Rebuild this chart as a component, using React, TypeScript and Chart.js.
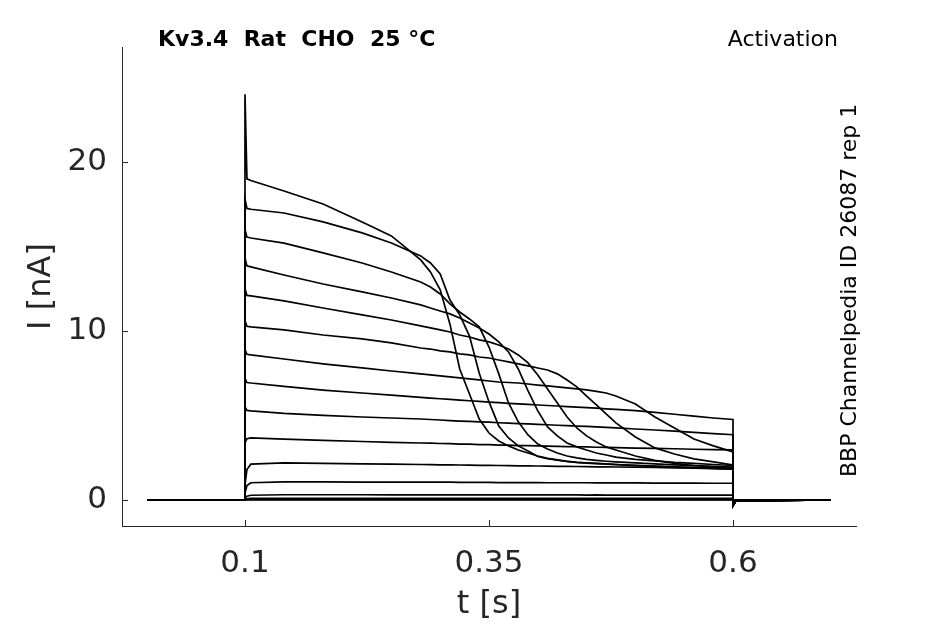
import { useEffect, useRef } from "react";
import { Chart, registerables } from "chart.js";

Chart.register(...registerables);

const AXIS = "#262626";
const FONT = "DejaVu Sans";

// shared time base (s); 0.1 and 0.6 are listed twice for the voltage steps
const times = [
  0, 0.1, 0.1, 0.102, 0.106, 0.14, 0.18, 0.22, 0.25, 0.28,
  0.29, 0.3, 0.31, 0.32, 0.33, 0.34, 0.35, 0.36, 0.37, 0.38,
  0.39, 0.4, 0.41, 0.42, 0.43, 0.44, 0.45, 0.46, 0.47, 0.48,
  0.5, 0.52, 0.54, 0.56, 0.58, 0.6, 0.6, 0.603, 0.7,
];

// current in nA, one array per sweep
const sweep1 = [
  0, 0, 24.0, 19.0, 18.9, 18.28, 17.51, 16.45, 15.62, 14.2,
  13.49, 12.43, 10.4, 7.75, 6.27, 4.79, 3.96, 3.49, 3.2, 2.96,
  2.78, 2.6, 2.46, 2.37, 2.28, 2.22, 2.19, 2.16, 2.13, 2.1,
  2.05, 2.0, 1.96, 1.92, 1.88, 1.84, -0.35, -0.05, 0,
];
const sweep2 = [
  0, 0, 17.8, 17.25, 17.2, 16.98, 16.45, 15.8, 15.2, 14.44,
  14.02, 13.37, 11.83, 10.95, 9.7, 7.5, 5.8, 4.38, 3.67, 3.2,
  2.9, 2.57, 2.45, 2.36, 2.28, 2.22, 2.18, 2.15, 2.12, 2.09,
  2.04, 1.99, 1.95, 1.91, 1.87, 1.83, -0.35, -0.05, 0,
];
const sweep3 = [
  0, 0, 16.0, 15.55, 15.5, 15.2, 14.62, 14.02, 13.49, 12.9,
  12.6, 12.19, 11.6, 11.12, 10.71, 10.24, 9.05, 7.46, 5.74, 4.62,
  3.85, 3.31, 3.02, 2.78, 2.6, 2.49, 2.4, 2.34, 2.29, 2.25,
  2.19, 2.13, 2.08, 2.03, 1.99, 1.95, -0.35, -0.05, 0,
];
const sweep4 = [
  0, 0, 14.3, 13.85, 13.79, 13.31, 12.78, 12.31, 11.95, 11.54,
  11.36, 11.18, 11.01, 10.77, 10.47, 10.18, 9.82, 9.35, 8.76, 7.75,
  6.45, 5.27, 4.32, 3.79, 3.37, 3.14, 2.96, 2.78, 2.66, 2.54,
  2.4, 2.31, 2.22, 2.16, 2.1, 2.04, -0.3, -0.05, 0,
];
const sweep5 = [
  0, 0, 12.5, 12.1, 12.07, 11.78, 11.36, 10.95, 10.65, 10.3,
  10.18, 10.06, 9.94, 9.76, 9.64, 9.47, 9.35, 9.17, 8.93, 8.58,
  8.11, 7.4, 6.57, 5.74, 4.91, 4.26, 3.79, 3.43, 3.14, 2.96,
  2.6, 2.34, 2.16, 2.04, 1.95, 1.89, -0.3, -0.05, 0,
];
const sweep6 = [
  0, 0, 10.6, 10.28, 10.24, 10.06, 9.76, 9.53, 9.29, 8.99,
  8.93, 8.82, 8.76, 8.64, 8.58, 8.46, 8.4, 8.28, 8.17, 8.05,
  7.93, 7.81, 7.69, 7.46, 7.1, 6.69, 6.15, 5.62, 5.09, 4.56,
  3.73, 3.08, 2.72, 2.43, 2.25, 2.07, -0.3, -0.05, 0,
];
const sweep7 = [
  0, 0, 8.9, 8.62, 8.58, 8.34, 8.05, 7.81, 7.63, 7.46,
  7.4, 7.34, 7.28, 7.22, 7.16, 7.1, 7.04, 6.98, 6.95, 6.92,
  6.86, 6.8, 6.75, 6.69, 6.63, 6.57, 6.51, 6.42, 6.33, 6.15,
  5.68, 4.91, 4.26, 3.61, 3.2, 2.84, -0.3, -0.05, 0,
];
const sweep8 = [
  0, 0, 7.2, 6.95, 6.92, 6.72, 6.5, 6.33, 6.2, 6.07,
  6.03, 5.99, 5.95, 5.91, 5.87, 5.83, 5.79, 5.76, 5.72, 5.69,
  5.66, 5.62, 5.59, 5.56, 5.52, 5.49, 5.46, 5.43, 5.39, 5.36,
  5.29, 5.18, 5.07, 4.96, 4.85, 4.76, -0.3, -0.05, 0,
];
const sweep9 = [
  0, 0, 5.5, 5.3, 5.27, 5.12, 5.0, 4.91, 4.85, 4.79,
  4.76, 4.73, 4.7, 4.67, 4.65, 4.62, 4.6, 4.57, 4.55, 4.52,
  4.5, 4.47, 4.45, 4.42, 4.4, 4.37, 4.35, 4.32, 4.29, 4.26,
  4.2, 4.14, 4.07, 4.0, 3.93, 3.86, -0.25, -0.04, 0,
];
const sweep10 = [
  0, 0, 3.4, 3.62, 3.67, 3.6, 3.53, 3.46, 3.41, 3.37,
  3.36, 3.34, 3.33, 3.31, 3.3, 3.28, 3.27, 3.25, 3.24, 3.22,
  3.21, 3.2, 3.19, 3.17, 3.16, 3.15, 3.14, 3.12, 3.11, 3.1,
  3.07, 3.05, 3.03, 3.0, 2.98, 2.96, -0.2, -0.03, 0,
];
const sweep11 = [
  0, 0, 0.9, 1.8, 2.12, 2.19, 2.17, 2.14, 2.12, 2.1,
  2.09, 2.08, 2.08, 2.07, 2.06, 2.05, 2.05, 2.04, 2.03, 2.02,
  2.02, 2.01, 2.0, 1.99, 1.99, 1.98, 1.97, 1.96, 1.96, 1.95,
  1.94, 1.92, 1.9, 1.88, 1.86, 1.84, -0.15, -0.02, 0,
];
const sweep12 = [
  0, 0, 0.4, 0.85, 1.02, 1.07, 1.07, 1.06, 1.06, 1.05,
  1.05, 1.05, 1.05, 1.04, 1.04, 1.04, 1.04, 1.03, 1.03, 1.03,
  1.03, 1.03, 1.02, 1.02, 1.02, 1.02, 1.02, 1.01, 1.01, 1.01,
  1.01, 1.0, 1.0, 1.0, 0.99, 0.99, -0.1, -0.02, 0,
];
const sweep13 = [
  0, 0, 0.1, 0.22, 0.28, 0.31, 0.31, 0.31, 0.3, 0.3,
  0.3, 0.31, 0.3, 0.3, 0.3, 0.3, 0.3, 0.3, 0.3, 0.3,
  0.3, 0.3, 0.3, 0.3, 0.3, 0.3, 0.29, 0.3, 0.29, 0.29,
  0.29, 0.29, 0.29, 0.29, 0.29, 0.29, -0.05, -0.01, 0,
];
const sweep14 = [
  0, 0, 0.03, 0.07, 0.09, 0.1, 0.1, 0.1, 0.1, 0.1,
  0.1, 0.1, 0.1, 0.1, 0.1, 0.1, 0.1, 0.1, 0.1, 0.1,
  0.1, 0.1, 0.1, 0.1, 0.1, 0.09, 0.09, 0.09, 0.09, 0.09,
  0.09, 0.09, 0.09, 0.09, 0.09, 0.09, -0.02, 0, 0,
];
const sweep15 = [
  0, 0, 0.01, 0.02, 0.03, 0.03, 0.03, 0.03, 0.03, 0.03,
  0.03, 0.03, 0.03, 0.03, 0.03, 0.03, 0.03, 0.03, 0.03, 0.03,
  0.03, 0.03, 0.03, 0.03, 0.03, 0.03, 0.03, 0.03, 0.03, 0.03,
  0.03, 0.03, 0.03, 0.02, 0.02, 0.02, -0.01, 0, 0,
];
const sweep16 = [
  0, 0, 0, 0.01, 0.01, 0.01, 0.01, 0.01, 0.01, 0.01,
  0.01, 0.01, 0.01, 0.01, 0.01, 0.01, 0.01, 0.01, 0.01, 0.01,
  0.01, 0.01, 0.01, 0.01, 0.01, 0.01, 0.01, 0.01, 0.01, 0.01,
  0.01, 0.01, 0.01, 0.01, 0.01, 0.01, 0, 0, 0,
];

const sweeps = [
  sweep1, sweep2, sweep3, sweep4, sweep5, sweep6, sweep7, sweep8,
  sweep9, sweep10, sweep11, sweep12, sweep13, sweep14, sweep15, sweep16,
];

const xTicks = [0.1, 0.35, 0.6];
const yTicks = [0, 10, 20];

// matplotlib-style ticks pointing into the plot
const innerTicks = {
  id: "innerTicks",
  afterDraw(chart: any) {
    const { ctx, chartArea, scales } = chart;
    ctx.save();
    ctx.strokeStyle = AXIS;
    ctx.lineWidth = 1;
    ctx.beginPath();
    xTicks.forEach((v) => {
      const px = Math.round(scales.x.getPixelForValue(v)) + 0.5;
      ctx.moveTo(px, chartArea.bottom);
      ctx.lineTo(px, chartArea.bottom - 6);
    });
    yTicks.forEach((v) => {
      const py = Math.round(scales.y.getPixelForValue(v)) + 0.5;
      ctx.moveTo(chartArea.left, py);
      ctx.lineTo(chartArea.left + 6, py);
    });
    ctx.stroke();
    ctx.restore();
  },
};

const TraceChart = () => {
  const chartRef = useRef<Chart | null>(null);
  const canvasRef = useRef<HTMLCanvasElement | null>(null);

  useEffect(() => {
    if (!canvasRef.current) return;
    if (chartRef.current) chartRef.current.destroy();

    chartRef.current = new Chart(canvasRef.current, {
      type: "line",
      data: {
        datasets: sweeps.map((s, k) => ({
          label: "sweep " + (k + 1),
          data: times.map((t, i) => ({ x: t, y: s[i] })),
          borderColor: "#000",
          borderWidth: 1.7,
          pointRadius: 0,
          fill: false,
          tension: 0,
        })),
      },
      plugins: [innerTicks],
      options: {
        animation: false,
        responsive: true,
        maintainAspectRatio: false,
        layout: { padding: { left: 0, right: 89, top: 47, bottom: 0 } },
        plugins: {
          legend: { display: false },
          tooltip: { enabled: false },
        },
        scales: {
          x: {
            type: "linear",
            min: -0.026,
            max: 0.726,
            afterBuildTicks: (scale: any) => {
              scale.ticks = xTicks.map((v) => ({ value: v }));
            },
            afterFit: (scale: any) => {
              scale.height = 98;
            },
            grid: { display: false, drawTicks: false },
            border: { display: true, color: AXIS, width: 1 },
            ticks: {
              color: AXIS,
              font: { family: FONT, size: 31 },
              padding: 19,
              maxRotation: 0,
              autoSkip: false,
              callback: (v: any) => String(v),
            },
            title: {
              display: true,
              text: "t [s]",
              color: AXIS,
              font: { family: FONT, size: 32 },
              padding: { top: 0, bottom: 0 },
            },
          },
          y: {
            type: "linear",
            min: -1.54,
            max: 26.8,
            afterBuildTicks: (scale: any) => {
              scale.ticks = yTicks.map((v) => ({ value: v }));
            },
            afterFit: (scale: any) => {
              scale.width = 122;
            },
            grid: { display: false, drawTicks: false },
            border: { display: true, color: AXIS, width: 1 },
            ticks: {
              color: AXIS,
              font: { family: FONT, size: 31 },
              padding: 15,
              autoSkip: false,
              callback: (v: any) => String(v),
            },
            title: {
              display: true,
              text: "I [nA]",
              color: AXIS,
              font: { family: FONT, size: 32 },
              padding: { top: 22, bottom: 0 },
            },
          },
        },
      },
    });

    return () => {
      if (chartRef.current) {
        chartRef.current.destroy();
        chartRef.current = null;
      }
    };
  }, []);

  return (
    <div
      style={{
        position: "absolute",
        left: 0,
        top: 0,
        width: 945,
        height: 624,
        background: "#fff",
        fontFamily: FONT,
        color: "#000",
      }}
    >
      <canvas ref={canvasRef}></canvas>
      <div
        style={{
          position: "absolute",
          left: 158,
          top: 28,
          fontSize: 22,
          lineHeight: "22px",
          fontWeight: "bold",
          whiteSpace: "pre",
        }}
      >
        {"Kv3.4  Rat  CHO  25 °C"}
      </div>
      <div
        style={{
          position: "absolute",
          right: 107,
          top: 28,
          fontSize: 22,
          lineHeight: "22px",
          whiteSpace: "pre",
        }}
      >
        Activation
      </div>
      <div
        style={{
          position: "absolute",
          left: 838,
          top: 477,
          fontSize: 22,
          lineHeight: "22px",
          whiteSpace: "pre",
          transformOrigin: "left top",
          transform: "rotate(-90deg)",
        }}
      >
        BBP Channelpedia ID 26087 rep 1
      </div>
    </div>
  );
};

export default function App() {
  return <TraceChart />;
}
